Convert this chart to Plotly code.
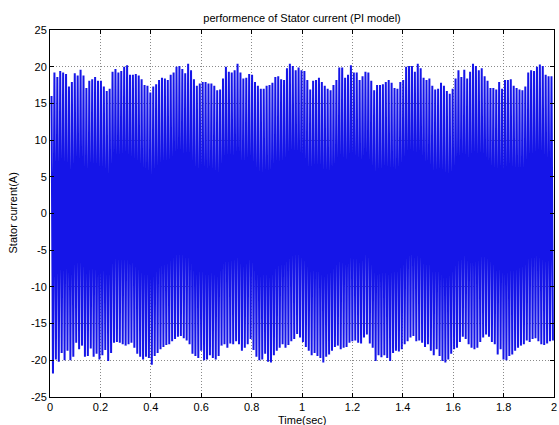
import numpy as np
import plotly.graph_objects as go

# Upper peak values of the current (A), read left to right
upper_peaks = [
    16, 19.2, 18.6, 19.4, 19.2, 19, 17.3, 17.9, 19.1, 18.8, 19.6, 18.8, 17.1, 18.1, 18.3, 18.6,
    18.1, 18.1, 17.3, 16.7, 17, 19.3, 19.7, 19.2, 19.4, 20, 20.2, 18.9, 18.9, 19, 18.8, 18.3,
    17.5, 17.4, 16.5, 17.3, 17.6, 18.2, 18.5, 18.4, 18.2, 18.9, 19.2, 20, 20.1, 19.7, 19.1, 20.4,
    19.5, 18.3, 17.4, 17.7, 17.9, 17.9, 17.7, 17.7, 17.4, 16.8, 16.9, 18.4, 20, 19.3, 19.2, 19.5,
    20.4, 19.2, 18.4, 18.5, 19, 18.9, 17.9, 17.4, 17, 17, 17.4, 17.5, 17.8, 18.6,
    18.7, 18.3, 18.2, 19.8, 20.4, 20.1, 19.5, 19.9, 19.5, 19.4, 18.2, 16.9, 18.1, 18.2, 18.5, 17.9,
    17.4, 17, 16.8, 17.5, 18.2, 19.9, 19.9, 18.5, 18.9, 20.2, 19.2, 19.2, 18.2, 18.7, 19.3, 19.2,
    18.1, 16.8, 17.5, 17.5, 17.6, 17.9, 18.2, 17.8, 17.1, 17, 17.9, 18.2, 20, 20.1, 20.1, 19.3,
    20.4, 19.8, 18.5, 18.2, 18.4, 17.4, 16.9, 17, 17.8, 17.4, 16.7, 16.3, 17, 18.4, 19.5, 18.6,
    19.6, 18.4, 19.3, 20.4, 20.1, 19.5, 19.8, 18.7, 18.1, 17.1, 17.1, 16.9, 17.9, 17, 18.2, 18.2,
    18.3, 17.4, 17.1, 16.9, 16.8, 17.3, 19.2, 19.5, 19.4, 20, 20.3, 20.1, 18.9, 18.7, 18.7, 18.6,
]

# Lower trough values of the current (A), read left to right
lower_troughs = [
    -21.8, -19.9, -20.2, -19, -20, -18.7, -20, -19.5, -17.6, -18.5, -18, -19.5, -19.4, -18.4, -19.5,
    -19.1, -19.9, -19.3, -18.6, -20.1, -19, -17.6, -17.5, -17.6, -17.8, -18, -17.8, -17.6, -18.3,
    -19.1, -19.5, -19.9, -19.5, -19.7, -20.6, -19.4, -19, -18.5, -18.2, -17.9, -17.8, -17.4, -17.1, -16.8, -16.7,
    -17, -17.3, -17.8, -19.1, -19.4, -19.7, -18.7, -20, -19.9, -19.3, -19.7, -19.9, -19.4, -18, -17.8, -18.3,
    -17.7, -17.8, -17.4, -17.8, -18.7, -18.3, -17.8, -17.1, -18.6, -19.5, -20, -19.9, -19.1, -20.2, -20.3, -19.3,
    -18.7, -18.3, -17.8, -18.3, -17.9, -17.4, -17.1, -16.4, -16.9, -17.5, -18.2, -18.7, -19.3, -19, -19.4, -19.7,
    -20.3, -19.5, -19.2, -18.7, -18.2, -18, -18.5, -18.3, -18.2, -17.6, -17.4, -17.3, -17.6, -17.7, -16.9, -16.5,
    -17.7, -18.3, -20.1, -19.3, -19.6, -19.3, -19.7, -20.1, -19, -18.7, -18.8, -18.5, -17.8, -17.4, -16.9, -16.7,
    -17.4, -17.3, -17.6, -18.2, -17.8, -18.7, -19.3, -18.5, -19.4, -20.1, -20.3, -19.9, -19.1, -18.5,
    -18.3, -17.5, -16.8, -17.1, -17.8, -18.3, -18.5, -18.3, -17.5, -16.9, -16.5, -16.8, -17.5, -17.8, -19.2,
    -18.5, -19.9, -20, -19.4, -19.2, -18.7, -18.3, -18, -17.8, -17.3, -17.5, -17.1, -17, -17.4, -17.8,
    -17.9, -17.7, -17.4, -17.3,
]

t_start, t_end = 0.006, 1.99

x_ticks = [0, 0.2, 0.4, 0.6, 0.8, 1, 1.2, 1.4, 1.6, 1.8, 2]
x_tick_labels = ["0", "0.2", "0.4", "0.6", "0.8", "1", "1.2", "1.4", "1.6", "1.8", "2"]
y_ticks = [-25, -20, -15, -10, -5, 0, 5, 10, 15, 20, 25]
y_tick_labels = ["-25", "-20", "-15", "-10", "-5", "0", "5", "10", "15", "20", "25"]

# alternate peaks and troughs along the time axis
n = min(len(upper_peaks), len(lower_troughs))
half = 0.5 * (t_end - t_start) / (n - 1)
t_up = np.linspace(t_start, t_end, n)
t_dn = t_up + half
t_all = np.empty(2 * n)
v_all = np.empty(2 * n)
t_all[0::2] = t_up
t_all[1::2] = t_dn
v_all[0::2] = upper_peaks[:n]
v_all[1::2] = lower_troughs[:n]

fig = go.Figure()
fig.add_trace(go.Scatter(
    x=t_all, y=v_all, mode="lines",
    line=dict(color="#1515e8", width=2),
    hoverinfo="skip", showlegend=False,
))

font = dict(family="Liberation Sans, Arial, sans-serif", size=11, color="black")
axis_common = dict(
    showline=True, linecolor="black", linewidth=1, mirror="ticks",
    ticks="inside", ticklen=4, tickcolor="black",
    showgrid=True, gridcolor="#8a8a8a", griddash="1px,2px", gridwidth=1,
    zeroline=False, tickfont=font, automargin=False,
)
fig.update_layout(
    width=559, height=425,
    margin=dict(l=50, r=5, t=30, b=28),
    paper_bgcolor="white", plot_bgcolor="white",
    title=dict(text="performence of Stator current (PI model)", x=(50 + 252) / 559, xanchor="center",
               y=1 - 18 / 425, yanchor="middle", font=font),
    xaxis=dict(range=[0, 2], tickvals=x_ticks, ticktext=x_tick_labels, **axis_common),
    yaxis=dict(range=[-25, 25], tickvals=y_ticks, ticktext=y_tick_labels, **axis_common),
    annotations=[
        dict(text="Time(sec)", xref="paper", yref="paper", x=0.5, y=-15 / 367,
             xanchor="center", yanchor="top", showarrow=False, font=font),
        dict(text="Stator current(A)", xref="paper", yref="paper", x=-38 / 504, y=0.5,
             xanchor="center", yanchor="middle", textangle=-90, showarrow=False, font=font),
    ],
    font=font,
)
fig.write_html(
    "out.html",
    config={"displayModeBar": False},
    post_script="document.body.style.margin='0';document.body.style.overflow='hidden';",
)
